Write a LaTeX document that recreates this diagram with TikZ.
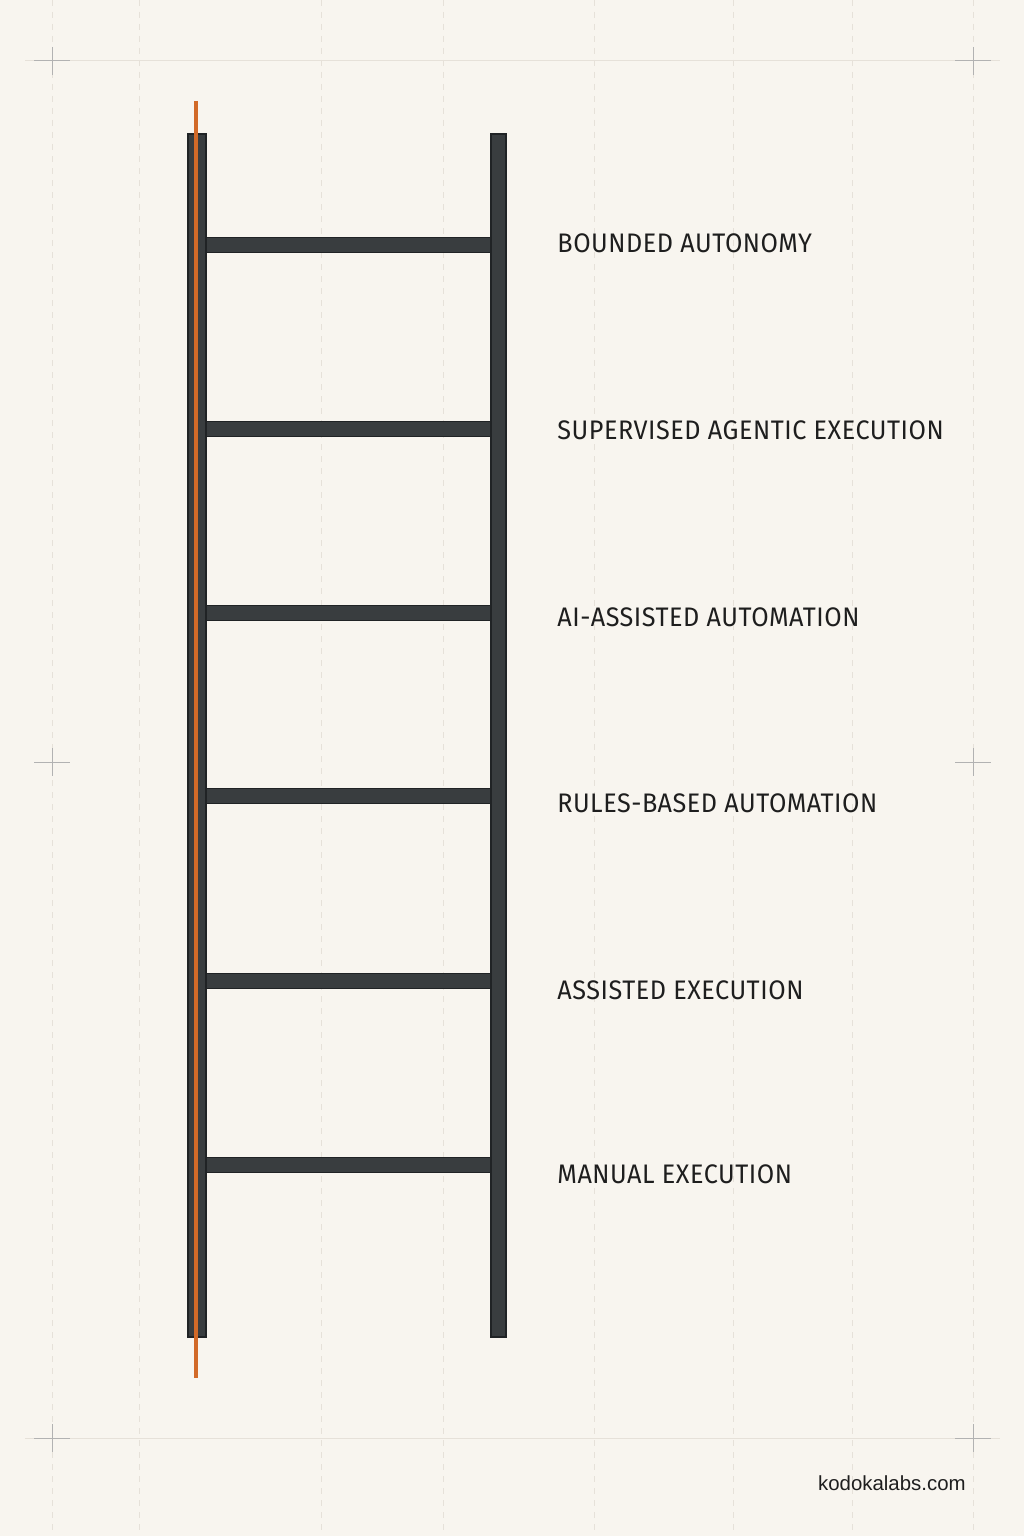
\documentclass[tikz,border=0pt]{standalone}
\usepackage{fontspec}
\setmainfont{Liberation Sans}
\newfontfamily\rungfont[FakeStretch=0.94,LetterSpace=2]{Fira Sans}
\usepackage{xcolor}
\definecolor{paper}{HTML}{F8F5EF}
\definecolor{railgray}{HTML}{393D3F}
\definecolor{raildark}{HTML}{202325}
\definecolor{ropeorange}{HTML}{D26A28}
\definecolor{gridgray}{HTML}{E6E1D9}
\definecolor{inkgray}{HTML}{1E1E1E}

\begin{document}
\begin{tikzpicture}[x=0.5pt,y=-0.5pt]
    \tikzset{
      rail/.style={fill=railgray,draw=raildark,line width=0.6pt},
      gridline/.style={gridgray,line width=0.5pt,dash pattern=on 3pt off 3pt},
      cropmark/.style={gray!60,line width=0.5pt},
      rungtext/.style={anchor=west,inner sep=0pt,text=inkgray,font=\rungfont\fontsize{13.4}{16}\selectfont}
    }
    \fill[paper] (0,0) rectangle (1024,1536);
    \useasboundingbox (0,0) rectangle (1024,1536);

    % faint guide grid
    \foreach \gx in {52,139,321,443,594,733,852,973}{
      \draw[gridline] (\gx,0) -- (\gx,1536);
    }
    \draw[gridgray,line width=0.5pt] (25,61) -- (1000,61);
    \draw[gridgray,line width=0.5pt] (25,1438) -- (1000,1438);
    \foreach \cx in {52,973}{
      \foreach \cy in {61,762,1438}{
        \draw[cropmark] (\cx-18,\cy) -- (\cx+18,\cy);
        \draw[cropmark] (\cx,\cy-14) -- (\cx,\cy+14);
      }
    }

    % ladder
    \begin{scope}
      \foreach \ry in {245,429,613,796,981,1165}{
        \draw[rail] (205,\ry-7.5) rectangle (492,\ry+7.5);
      }
      \draw[rail] (188,134) rectangle (206,1337);
      \draw[rail] (491,134) rectangle (506,1337);
      \draw[ropeorange,line width=1.9pt] (196,101) -- (196,1378);
    \end{scope}

    % stage labels
    \node[rungtext] (bounded)    at (557,243.5) {BOUNDED AUTONOMY};
    \node[rungtext] (supervised) at (557,430)   {SUPERVISED AGENTIC EXECUTION};
    \node[rungtext] (aiassisted) at (557,617)   {AI-ASSISTED AUTOMATION};
    \node[rungtext] (rulesbased) at (557,803)   {RULES-BASED AUTOMATION};
    \node[rungtext] (assisted)   at (557,990)   {ASSISTED EXECUTION};
    \node[rungtext] (manual)     at (557,1174)  {MANUAL EXECUTION};

    \node[anchor=base east,inner sep=0pt,text=inkgray,font=\fontsize{10.2}{12}\selectfont] (site) at (966,1490) {kodokalabs.com};
\end{tikzpicture}
\end{document}
